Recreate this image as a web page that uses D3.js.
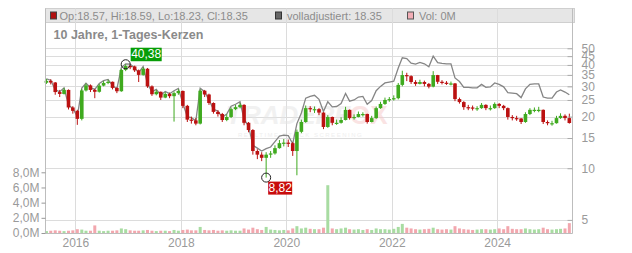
<!DOCTYPE html>
<html><head><meta charset="utf-8">
<script src="https://cdn.jsdelivr.net/npm/d3@7"></script>
<style>
body{margin:0;background:#fff;}
svg{display:block;font-family:"Liberation Sans",Arial,sans-serif;}
</style>
</head><body>
<svg id="c" width="632" height="253"></svg>
<script>
const months = [
 "2015-06","2015-07","2015-08","2015-09","2015-10","2015-11","2015-12",
 "2016-01","2016-02","2016-03","2016-04","2016-05","2016-06","2016-07","2016-08","2016-09","2016-10","2016-11","2016-12",
 "2017-01","2017-02","2017-03","2017-04","2017-05","2017-06","2017-07","2017-08","2017-09","2017-10","2017-11","2017-12",
 "2018-01","2018-02","2018-03","2018-04","2018-05","2018-06","2018-07","2018-08","2018-09","2018-10","2018-11","2018-12",
 "2019-01","2019-02","2019-03","2019-04","2019-05","2019-06","2019-07","2019-08","2019-09","2019-10","2019-11","2019-12",
 "2020-01","2020-02","2020-03","2020-04","2020-05","2020-06","2020-07","2020-08","2020-09","2020-10","2020-11","2020-12",
 "2021-01","2021-02","2021-03","2021-04","2021-05","2021-06","2021-07","2021-08","2021-09","2021-10","2021-11","2021-12",
 "2022-01","2022-02","2022-03","2022-04","2022-05","2022-06","2022-07","2022-08","2022-09","2022-10","2022-11","2022-12",
 "2023-01","2023-02","2023-03","2023-04","2023-05","2023-06","2023-07","2023-08","2023-09","2023-10","2023-11","2023-12",
 "2024-01","2024-02","2024-03","2024-04","2024-05","2024-06","2024-07","2024-08","2024-09","2024-10","2024-11","2024-12",
 "2025-01","2025-02","2025-03","2025-04","2025-05"];
const firstOpen = 31.5;
const closes = [
 32.3,31.6,27.8,27.1,28.6,22.6,21.6,
 19.4,28.4,30.4,28.6,27.9,30.3,31.4,31.9,29.4,28.1,37.4,39.4,
 39.2,37.2,35.0,38.0,30.0,27.0,27.9,25.8,27.1,26.3,27.4,28.2,
 23.1,19.2,19.0,18.2,28.3,26.9,24.0,21.3,20.7,19.1,19.9,22.1,
 22.7,23.4,18.4,16.7,12.6,12.0,11.5,12.0,12.2,13.1,14.0,14.1,
 14.0,12.6,16.3,18.6,22.4,22.1,22.1,21.1,17.4,19.9,18.4,18.4,
 19.1,21.9,19.6,19.9,20.7,20.7,18.6,19.6,22.4,23.7,25.0,25.3,
 25.6,30.6,34.9,34.4,31.8,31.0,31.8,31.0,29.9,34.9,31.9,31.5,
 31.2,31.2,25.3,24.3,22.7,22.6,22.4,22.4,23.4,22.4,22.4,23.7,
 23.1,22.4,19.9,19.6,19.5,18.6,20.7,21.9,21.9,21.9,18.6,18.3,
 18.3,19.6,20.2,19.6,18.35];
const highs = [
 33.2,33.0,31.8,28.6,29.4,28.8,23.0,
 21.9,29.0,31.2,30.8,29.0,31.0,32.2,32.8,32.0,29.6,38.0,40.38,
 40.2,39.6,37.6,38.8,38.4,30.4,28.6,28.0,27.8,27.6,28.0,28.9,
 28.4,23.4,20.0,19.6,28.8,28.6,27.2,24.2,21.8,21.0,20.6,22.6,
 23.4,24.0,23.6,18.6,16.9,12.9,12.4,12.4,12.6,13.6,14.6,14.8,
 14.7,14.2,16.8,19.2,23.2,23.0,22.9,22.4,21.2,20.4,20.0,19.2,
 19.8,22.8,22.0,20.6,21.4,21.2,20.8,20.2,22.9,24.4,25.8,26.0,
 26.6,31.4,37.0,36.0,34.8,32.6,32.8,32.4,31.4,36.8,35.0,32.6,
 32.2,32.0,31.4,25.8,24.6,23.4,23.2,23.0,24.0,23.6,23.2,24.2,
 24.0,23.4,22.6,20.4,20.2,19.6,21.2,22.4,22.6,22.8,22.0,19.0,
 18.9,20.2,20.9,20.6,20.8];
const lows = [
 31.0,30.8,26.8,26.0,26.9,22.0,20.8,
 17.9,19.0,28.0,27.8,25.6,27.6,30.0,30.9,28.8,27.4,27.9,36.8,
 37.8,36.4,31.8,34.6,29.4,26.4,26.6,25.0,25.6,25.6,18.7,26.8,
 22.4,18.6,18.2,17.8,18.0,26.0,23.4,20.8,20.0,18.6,18.8,19.6,
 21.8,22.4,17.8,16.2,12.0,11.3,11.0,8.82,11.5,12.0,13.0,13.4,
 13.3,11.8,9.1,16.0,18.4,21.2,21.0,20.4,16.9,17.2,17.8,17.9,
 18.2,19.0,19.2,19.2,19.8,20.0,18.2,18.5,19.4,22.2,23.4,24.4,
 24.8,25.2,30.0,32.2,31.0,30.2,30.8,30.0,29.2,29.6,31.0,30.8,
 30.6,30.4,24.6,23.8,21.9,21.8,21.7,21.6,22.2,21.8,21.7,22.2,
 22.4,21.8,19.2,19.0,18.9,18.1,18.4,20.4,21.2,21.2,18.1,17.8,
 17.7,18.2,19.4,19.0,18.2];
const adjusted = [
 33.2,32.6,28.7,27.9,29.4,23.3,22.3,
 20.0,29.3,31.3,29.5,28.8,31.2,32.4,32.9,30.3,29.0,38.6,40.6,
 40.4,38.4,36.1,39.2,31.0,27.9,28.8,26.7,28.0,27.2,28.3,29.2,
 23.9,19.9,19.7,18.9,29.3,27.9,24.9,22.1,21.5,19.8,20.7,23.0,
 23.6,24.4,19.3,17.6,13.6,13.1,12.6,13.0,13.3,14.3,15.4,15.6,
 15.5,13.9,18.2,21.0,25.6,26.2,26.6,25.2,21.4,24.4,22.8,22.9,
 23.8,27.3,24.6,25.0,26.0,26.2,23.6,24.8,28.3,30.0,31.4,31.8,
 32.2,38.4,44.0,43.6,41.0,40.4,41.4,40.6,39.0,45.0,41.2,40.8,
 40.6,40.6,33.6,32.0,29.6,29.6,29.4,29.4,30.8,29.6,29.8,31.4,
 30.8,29.8,27.6,27.4,27.2,25.8,29.0,30.8,31.0,31.0,26.0,25.6,
 25.6,27.8,28.6,27.8,26.8];
const volumesM = [
 0.25,0.3,0.35,0.3,0.25,0.3,0.35,
 0.5,0.45,0.3,0.3,1.0,0.3,0.25,0.3,0.3,0.35,0.6,0.5,
 0.35,0.3,0.3,0.35,0.4,0.3,0.25,0.3,0.3,0.25,0.4,0.3,
 0.4,0.45,0.35,0.35,0.8,0.4,0.35,0.4,0.3,0.35,0.3,0.35,
 0.3,0.3,0.6,0.45,0.7,0.5,0.4,0.8,0.45,0.4,0.35,0.4,
 0.35,0.6,0.9,0.6,0.7,0.55,0.5,0.5,0.7,6.3,0.6,0.5,
 0.6,0.7,0.5,0.45,0.5,0.4,0.5,0.4,0.6,0.5,0.5,0.45,
 0.55,0.8,1.2,0.7,0.6,0.5,0.45,0.5,0.55,0.7,0.5,0.45,
 0.5,0.45,0.9,0.6,0.5,0.45,0.4,0.45,0.5,0.5,0.45,0.5,
 0.6,0.5,0.9,0.55,0.5,0.5,0.6,0.5,0.45,0.5,0.7,0.5,
 0.45,0.5,0.55,0.6,1.3];
const priceTicks = [5,10,15,20,25,30,35,40,45,50];
const volTicks = [0,2,4,6,8];
const yearTicks = ["2016","2018","2020","2022","2024"];
const legendItems = ["Op:18.57, Hi:18.59, Lo:18.23, Cl:18.35","volladjustiert: 18.35","Vol: 0M"];
const titleText = "10 Jahre, 1-Tages-Kerzen";
const highLabel = "40,38", lowLabel = "8,82";
const highValue = 40.38, highMonth = "2016-12";
const lowValue = 8.82, lowMonth = "2019-08";

const svg = d3.select("#c");
const L = 45.5, R = 572.5, T = 8.5, B = 233.5;
const parseM = d3.timeParse("%Y-%m");
const mid = s => d3.timeDay.offset(parseM(s), 14);
const x = d3.scaleTime().domain([new Date(2015,5,10), new Date(2025,4,30)]).range([45.7, 571.5]);
const y = d3.scaleLog().domain([5,50]).range([219.9, 48.3]);
const yv = d3.scaleLinear().domain([0,8]).range([233, 172.3]);

const data = months.map((m,i) => ({
  d: mid(m), o: i ? closes[i-1] : firstOpen, c: closes[i], h: highs[i], l: lows[i], a: adjusted[i], v: volumesM[i]
}));

// legend band
svg.append("rect").attr("x",L).attr("y",T).attr("width",R-L+2).attr("height",14)
  .attr("fill","#e6e6e6").attr("stroke","#cfcfcf");

// gridlines
const gx = yearTicks.map(t => x(parseM(t+"-01")));
svg.append("g").selectAll("line").data(gx).join("line")
  .attr("x1",d=>Math.round(d)+0.5).attr("x2",d=>Math.round(d)+0.5).attr("y1",T).attr("y2",B)
  .attr("stroke","#dcdcdc");
svg.append("g").selectAll("line").data(priceTicks).join("line")
  .attr("x1",L).attr("x2",R).attr("y1",d=>Math.round(y(d))+0.5).attr("y2",d=>Math.round(y(d))+0.5)
  .attr("stroke","#dcdcdc");

// watermark
const wm = svg.append("g").attr("opacity",0.5);
wm.append("text").attr("x",226).attr("y",124).attr("font-size",26).attr("font-weight","bold")
  .attr("font-style","italic").attr("fill","#e4e4e4").text("TRADERF");
wm.append("text").attr("x",350).attr("y",124).attr("font-size",26).attr("font-weight","bold")
  .attr("fill","#f6c8c8").text("OX");
wm.append("text").attr("x",238).attr("y",137).attr("font-size",6).attr("fill","#e0e0e0")
  .attr("letter-spacing",1.5).text("REALTIME STOCK SCREENING");

// volume bars
svg.append("g").selectAll("rect").data(data).join("rect")
  .attr("x",d=>x(d.d)-1.5).attr("width",3)
  .attr("y",d=>yv(d.v)).attr("height",d=>Math.max(0.6,yv(0)-yv(d.v)))
  .attr("fill",d=>d.c>=d.o ? "#a8dca2" : "#f2a7ae");

// adjusted line
svg.append("path").datum(data)
  .attr("d", d3.line().x(d=>x(d.d)).y(d=>y(d.a)))
  .attr("fill","none").attr("stroke","#858585").attr("stroke-width",1.3);

// candles
const cg = svg.append("g");
const col = d => d.c>=d.o ? "#3faa1f" : "#bb1111";
cg.selectAll("line").data(data).join("line")
  .attr("x1",d=>x(d.d)).attr("x2",d=>x(d.d)).attr("y1",d=>y(d.h)).attr("y2",d=>y(d.l))
  .attr("stroke",col).attr("stroke-width",1);
cg.selectAll("rect").data(data).join("rect")
  .attr("x",d=>x(d.d)-1.8).attr("width",3.6)
  .attr("y",d=>Math.min(y(d.o),y(d.c))).attr("height",d=>Math.max(1.2,Math.abs(y(d.o)-y(d.c))))
  .attr("fill",col);

// frame / axes lines
svg.append("line").attr("x1",L).attr("x2",L).attr("y1",T).attr("y2",B).attr("stroke","#bdbdbd");
svg.append("line").attr("x1",R).attr("x2",R).attr("y1",T).attr("y2",B).attr("stroke","#bdbdbd");
svg.append("line").attr("x1",L).attr("x2",R).attr("y1",B).attr("y2",B).attr("stroke","#bdbdbd");

// right price axis
const ra = svg.append("g").attr("transform",`translate(${R},0)`)
  .call(d3.axisRight(y).tickValues(priceTicks).tickFormat(d3.format("d")).tickSizeInner(-5).tickSizeOuter(0).tickPadding(9));
ra.select(".domain").remove();
ra.selectAll("line").attr("stroke","#aaa");
ra.selectAll("text").attr("fill","#9a9a9a").attr("font-size",12).attr("font-family","Liberation Sans, Arial, sans-serif");

// left volume axis
const la = svg.append("g").attr("transform",`translate(${L},0)`)
  .call(d3.axisLeft(yv).tickValues(volTicks).tickFormat(d=>d.toFixed(1).replace(".",",")+"M").tickSizeInner(4).tickSizeOuter(0).tickPadding(2));
la.select(".domain").remove();
la.selectAll("line").attr("stroke","#999");
la.selectAll("text").attr("fill","#9a9a9a").attr("font-size",12).attr("font-family","Liberation Sans, Arial, sans-serif");

// bottom axis
const ba = svg.append("g").attr("transform",`translate(0,${B})`)
  .call(d3.axisBottom(x).tickValues(yearTicks.map(t=>parseM(t+"-01"))).tickFormat(d3.timeFormat("%Y")).tickSize(0).tickPadding(5));
ba.select(".domain").remove();
ba.selectAll("text").attr("fill","#9a9a9a").attr("font-size",12).attr("font-family","Liberation Sans, Arial, sans-serif");

// legend
const lg = [[50.5,59.5,"#b01010","#444"],[275.5,287,"#666","#333"],[407.5,419,"#f2aeb6","#555"]];
lg.forEach((p,i)=>{
  svg.append("rect").attr("x",p[0]).attr("y",12).attr("width",6).attr("height",7).attr("fill",p[2]).attr("stroke",p[3]);
  svg.append("text").attr("x",p[1]).attr("y",19.6).attr("font-size",11).attr("fill","#8c8c8c").text(legendItems[i]);
});
svg.append("text").attr("x",53.5).attr("y",38.5).attr("font-size",12.5).attr("font-weight","bold")
  .attr("fill","#8a8a8a").text(titleText);

// high / low markers
const hx = x(mid(highMonth)), hy = y(highValue);
svg.append("circle").attr("cx",hx).attr("cy",hy).attr("r",4.5).attr("fill","none").attr("stroke","#222");
svg.append("rect").attr("x",hx+5).attr("y",hy-16.5).attr("width",31).attr("height",13.5).attr("fill","#079d07");
svg.append("text").attr("x",hx+20.5).attr("y",hy-5.8).attr("text-anchor","middle").attr("font-size",12)
  .attr("fill","#fff").text(highLabel);
const lx = x(mid(lowMonth)), ly = y(lowValue);
svg.append("circle").attr("cx",lx).attr("cy",ly).attr("r",4.5).attr("fill","none").attr("stroke","#222");
svg.append("rect").attr("x",lx+2).attr("y",ly+4).attr("width",24).attr("height",13).attr("fill","#c80c0c");
svg.append("text").attr("x",lx+14).attr("y",ly+14.5).attr("text-anchor","middle").attr("font-size",12)
  .attr("fill","#fff").text(lowLabel);
</script>
</body></html>
